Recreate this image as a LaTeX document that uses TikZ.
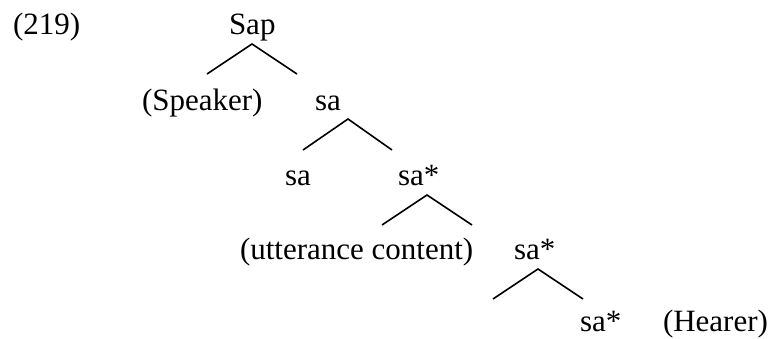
\documentclass[tikz,border=0pt]{standalone}
\usepackage{fontspec}
\setmainfont{Liberation Serif}
\begin{document}
\begin{tikzpicture}[x=1pt,y=-1pt,
  lbl/.style={anchor=base west,inner sep=0pt,outer sep=0pt,font=\fontsize{31}{37}\selectfont},
  branch/.style={line width=1.6pt,line join=miter}]
\useasboundingbox (0,0) rectangle (775,339);
% labels
\node[lbl] (ex) at (13,35) {(219)};
\node[lbl] (sap) at (229,35) {Sap};
\node[lbl] (spk) at (142,111) {(Speaker)};
\node[lbl] (saA) at (315,111) {sa};
\node[lbl] (saB) at (285,185) {sa};
\node[lbl] (ssA) at (398,185) {sa*};
\node[lbl] (utt) at (240,259) {(utterance content)};
\node[lbl] (ssB) at (514,259) {sa*};
\node[lbl] (ssC) at (580,331) {sa*};
\node[lbl] (hea) at (663,331) {(Hearer)};
% branch points
\coordinate (t1) at (252,44);  \coordinate (l1) at (207,74);  \coordinate (r1) at (297,74);
\coordinate (t2) at (348,119); \coordinate (l2) at (303,150); \coordinate (r2) at (392,150);
\coordinate (t3) at (427,195); \coordinate (l3) at (382,225); \coordinate (r3) at (472,225);
\coordinate (t4) at (538,269); \coordinate (l4) at (493,299); \coordinate (r4) at (583,299);
\draw[branch] (l1) -- (t1) -- (r1);
\draw[branch] (l2) -- (t2) -- (r2);
\draw[branch] (l3) -- (t3) -- (r3);
\draw[branch] (l4) -- (t4) -- (r4);
\end{tikzpicture}
\end{document}
